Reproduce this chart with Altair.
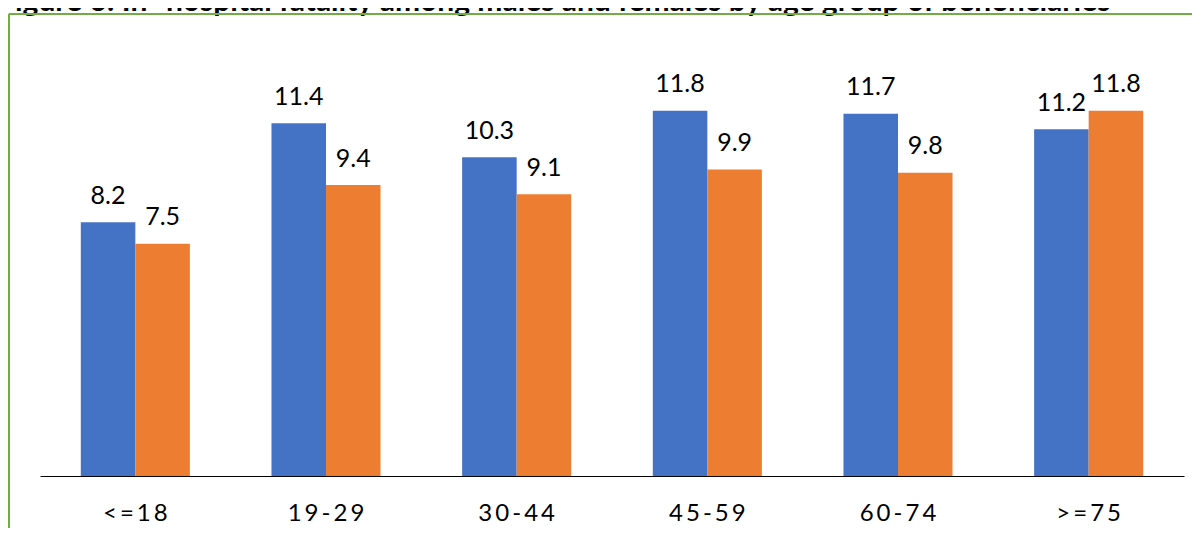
import altair as alt
import pandas as pd

groups = ["<=18", "19-29", "30-44", "45-59", "60-74", ">=75"]
series = ["Male", "Female"]
males = [8.2, 11.4, 10.3, 11.8, 11.7, 11.2]
females = [7.5, 9.4, 9.1, 9.9, 9.8, 11.8]
title_text = "Figure 6: In- hospital fatality among males and females by age group of beneficiaries"

rows = []
for g, m, f in zip(groups, males, females):
    rows.append({"group": g, "sex": "Male", "value": m})
    rows.append({"group": g, "sex": "Female", "value": f})
df = pd.DataFrame(rows)

W, H = 1144, 468

x = alt.X(
    "group:N", sort=groups,
    scale=alt.Scale(paddingInner=0.428, paddingOuter=0.214),
    axis=alt.Axis(title=None, ticks=False, grid=False, labelAngle=0,
                  domainColor="#000000", domainWidth=1,
                  labelFont="Lato", labelFontSize=24, labelColor="#000000",
                  labelPadding=25,
                  labelExpr="join(split(datum.label, ''), '\u2009')"),
)
y = alt.Y("value:Q", scale=alt.Scale(domain=[0, 15.12], nice=False, zero=True), axis=None)
xo = alt.XOffset("sex:N", sort=series, scale=alt.Scale(paddingInner=0, paddingOuter=0))
color = alt.Color("sex:N", sort=series,
                  scale=alt.Scale(domain=series, range=["#4472C4", "#ED7D31"]),
                  legend=None)

bars = alt.Chart(df).mark_bar().encode(x=x, y=y, xOffset=xo, color=color)
labels = alt.Chart(df).mark_text(
    dy=-18.5, baseline="alphabetic", align="center",
    font="Lato", fontSize=25, color="#000000"
).encode(x=x, y=y, xOffset=xo, text=alt.Text("value:Q", format=".1f"))

one = pd.DataFrame({"t": [title_text]})
title = alt.Chart(one).mark_text(
    align="left", baseline="alphabetic", font="Lato", fontWeight="bold",
    fontSize=30, color="#000000"
).encode(x=alt.value(-42), y=alt.value(3), text="t:N")

top_line = alt.Chart(one).mark_rule(color="#70AD47", strokeWidth=2).encode(
    x=alt.value(-31), x2=alt.value(W + 8), y=alt.value(6))
left_line = alt.Chart(one).mark_rule(color="#70AD47", strokeWidth=2).encode(
    x=alt.value(-31), y=alt.value(6), y2=alt.value(H + 52))

chart = alt.layer(bars, labels, title, top_line, left_line).properties(
    width=W, height=H, autosize="none",
    padding={"left": 32, "top": 0, "right": 8, "bottom": 52},
).configure_view(stroke=None)

chart.save("out.html", embed_options={"renderer": "svg", "actions": False})
